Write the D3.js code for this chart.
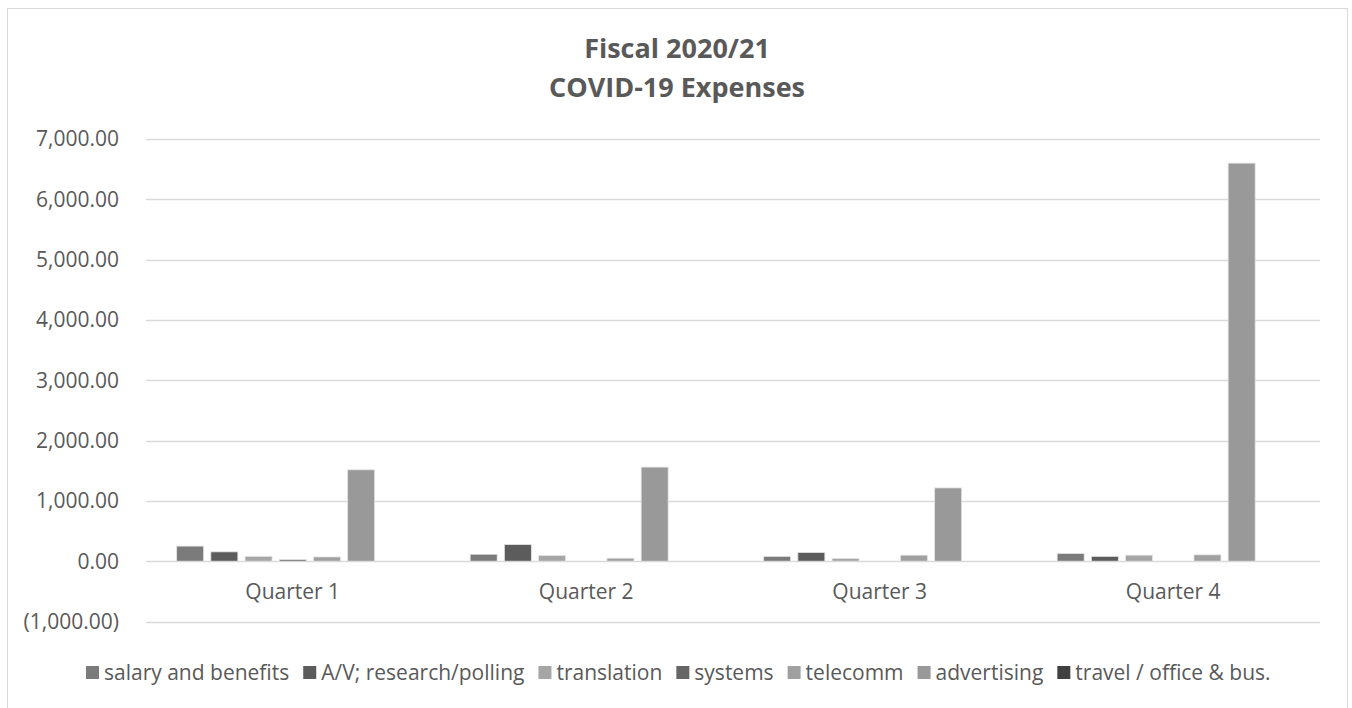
<!DOCTYPE html>
<html>
<head>
<meta charset="utf-8">
<script src="https://cdnjs.cloudflare.com/ajax/libs/d3/7.8.5/d3.min.js"></script>
<style>
  body { margin: 0; background: #fff; }
  text { font-family: "Open Sans", Lato, sans-serif; fill: #595959; }
</style>
</head>
<body>
<svg id="chart" width="1352" height="708"></svg>
<script>
// chart data
var quarters = ["Quarter 1", "Quarter 2", "Quarter 3", "Quarter 4"];
var seriesNames = ["salary and benefits", "A/V; research/polling", "translation", "systems", "telecomm", "advertising", "travel / office & bus."];
var seriesColors = ["#7b7b7b", "#5c5c5c", "#a6a6a6", "#666666", "#a0a0a0", "#999999", "#404040"];
var salary = [250, 115, 80, 128];
var research = [155, 275, 145, 80];
var translation = [80, 95, 45, 100];
var systems = [25, 0, 0, 0];
var telecomm = [70, 50, 100, 105];
var advertising = [1515, 1560, 1215, 6600];
var travel = [0, 0, 0, 0];
var yTicks = [-1000, 0, 1000, 2000, 3000, 4000, 5000, 6000, 7000];

var values = [salary, research, translation, systems, telecomm, advertising, travel];

var svg = d3.select("#chart");

// outer chart frame
svg.append("rect")
    .attr("x", 7.5).attr("y", 8.5)
    .attr("width", 1340).attr("height", 720)
    .attr("fill", "none").attr("stroke", "#d9d9d9");

var x = d3.scaleBand().domain(quarters).range([146, 1320]);
var y = d3.scaleLinear().domain([-1000, 7000]).range([621.5, 139]);

// gridlines
svg.append("g").selectAll("line")
    .data(yTicks)
    .join("line")
    .attr("x1", 146).attr("x2", 1320)
    .attr("y1", d => Math.round(y(d)) + 0.5)
    .attr("y2", d => Math.round(y(d)) + 0.5)
    .attr("stroke", "#d9d9d9").attr("stroke-width", 1.3);

var fmt = d3.format(",.2f");
svg.append("g").selectAll("text")
    .data(yTicks)
    .join("text")
    .attr("x", 119)
    .attr("y", d => y(d))
    .attr("dy", "0.35em")
    .attr("text-anchor", "end")
    .style("font-size", "21px")
    .text(d => d < 0 ? "(" + fmt(-d) + ")" : fmt(d));

// bars: 7 per quarter
var slot = 34.2, barW = 27;
var bars = [];
quarters.forEach(function(q, qi) {
    values.forEach(function(s, si) {
        bars.push({q: q, si: si, v: s[qi]});
    });
});
var xs = d3.scaleLinear().domain([0, 6]).range([-3 * slot, 3 * slot]);

svg.append("g").selectAll("rect")
    .data(bars.filter(d => d.v > 0))
    .join("rect")
    .attr("x", d => x(d.q) + x.bandwidth() / 2 + xs(d.si) - barW / 2)
    .attr("y", d => y(d.v))
    .attr("width", barW)
    .attr("height", d => y(0) - y(d.v))
    .attr("fill", d => seriesColors[d.si])
    .attr("stroke", "#e4e4e4").attr("stroke-width", 0.8);

// category labels
svg.append("g").selectAll("text")
    .data(quarters)
    .join("text")
    .attr("x", d => x(d) + x.bandwidth() / 2)
    .attr("y", 599)
    .attr("text-anchor", "middle")
    .style("font-size", "21px")
    .text(d => d);

// title
svg.append("text").attr("x", 677).attr("y", 58)
    .attr("text-anchor", "middle")
    .style("font-size", "27px").style("font-weight", "bold")
    .text("Fiscal 2020/21");
svg.append("text").attr("x", 677).attr("y", 97)
    .attr("text-anchor", "middle")
    .style("font-size", "27px").style("font-weight", "bold")
    .text("COVID-19 Expenses");

// legend
var legend = svg.append("g");
var lx = 86;
seriesNames.forEach(function(name, i) {
    var g = legend.append("g").attr("transform", "translate(" + lx + ",0)");
    g.append("rect").attr("x", 0).attr("y", 666).attr("width", 13).attr("height", 13)
        .attr("fill", seriesColors[i]);
    var t = g.append("text").attr("x", 18).attr("y", 680)
        .style("font-size", "21px").text(name);
    lx += 18 + t.node().getComputedTextLength() + 14;
});
</script>
</body>
</html>
